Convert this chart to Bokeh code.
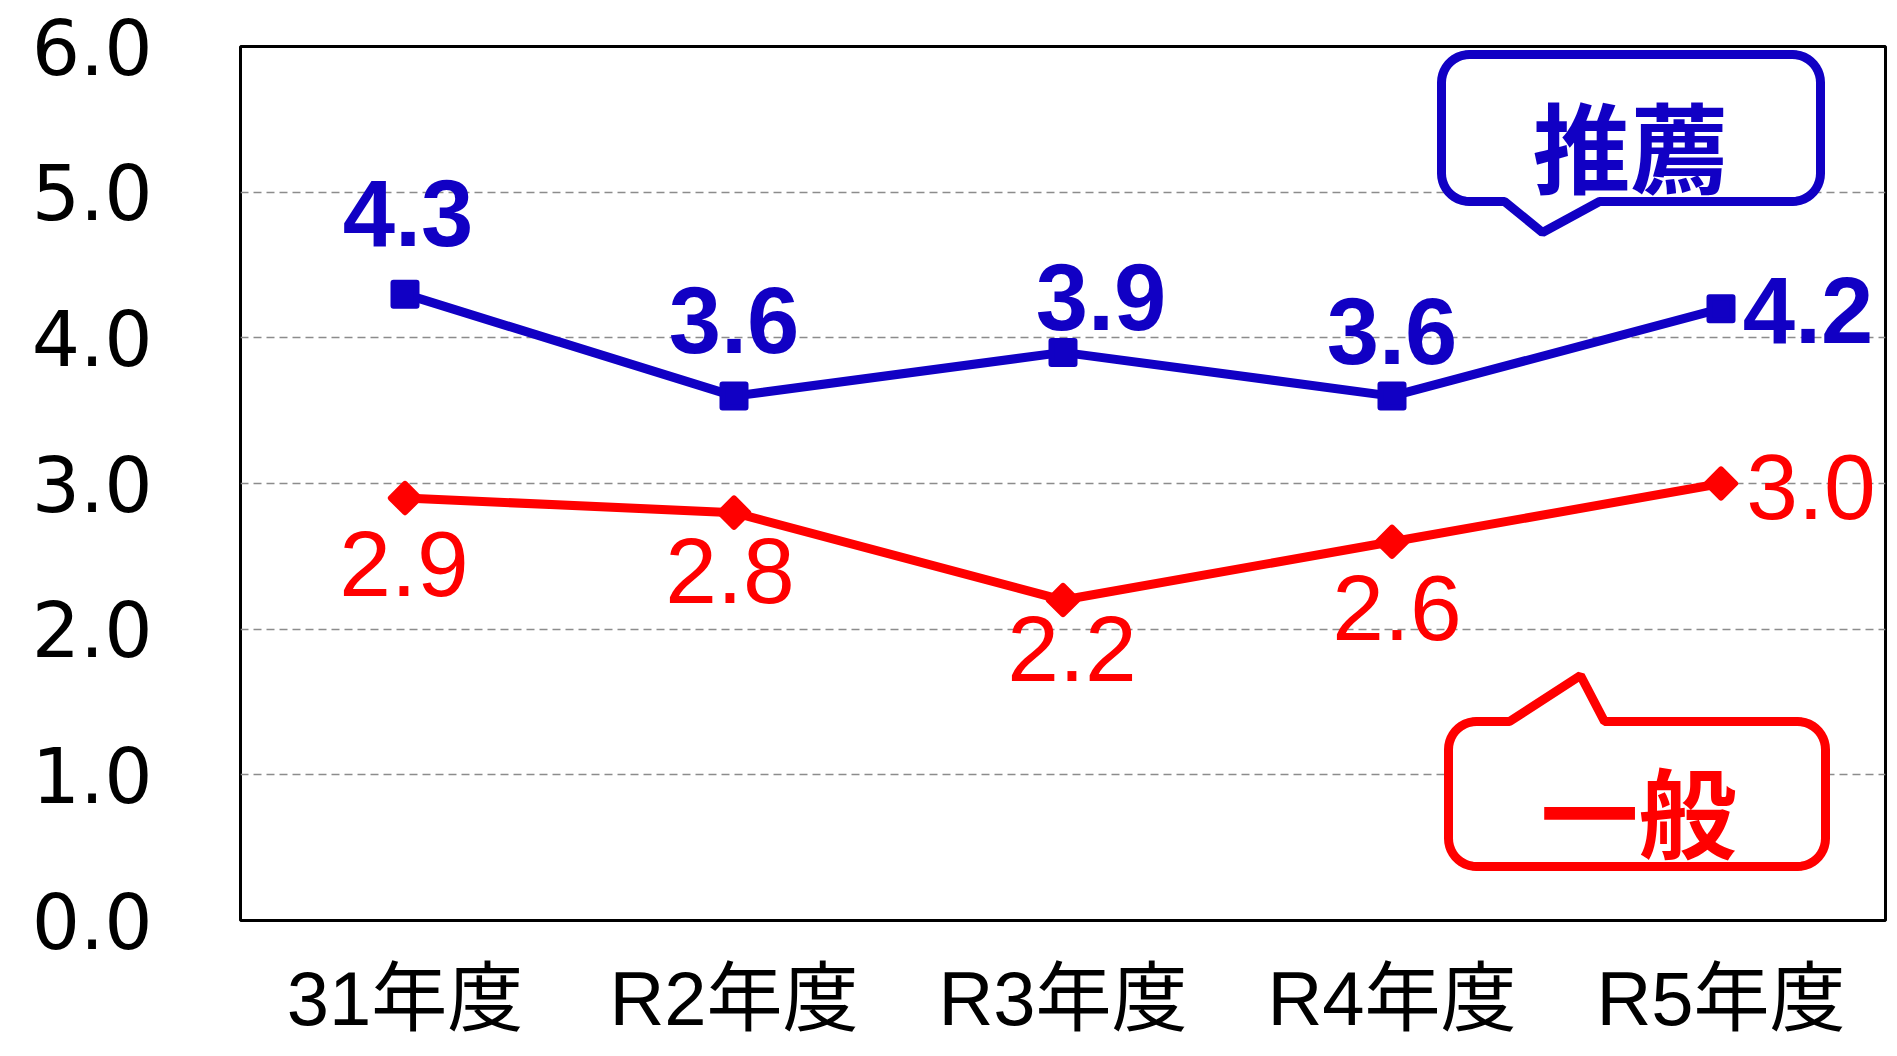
import numpy as np
from bokeh.plotting import figure
from bokeh.models import (FactorRange, Range1d, FixedTicker, PrintfTickFormatter,
                          ColumnDataSource, LabelSet)
from bokeh.core.properties import value
from bokeh.embed import file_html
from bokeh.resources import INLINE

# ---------------- data ----------------
categories = ["31年度", "R2年度", "R3年度", "R4年度", "R5年度"]
suisen = [4.3, 3.6, 3.9, 3.6, 4.2]      # 推薦
ippan = [2.9, 2.8, 2.2, 2.6, 3.0]       # 一般
y_ticks = [0, 1, 2, 3, 4, 5, 6]
series_names = ["推薦", "一般"]

# ---------------- styles ----------------
BLUE = "#1100C4"
RED = "#FF0000"
LEFT, TOP = 240, 46
FW, FH = 1645, 874

p = figure(
    x_range=FactorRange(*categories, range_padding=0),
    y_range=Range1d(0, 6),
    frame_width=FW, frame_height=FH,
    min_border_left=LEFT, min_border_top=TOP, min_border_right=2, min_border_bottom=120,
    output_backend="svg", toolbar_location=None,
)
p.background_fill_color = "white"
p.border_fill_color = "white"
p.outline_line_color = "black"
p.outline_line_width = 3

# axes
p.yaxis.ticker = FixedTicker(ticks=y_ticks)
p.yaxis.formatter = PrintfTickFormatter(format="%.1f")
p.yaxis.axis_line_color = None
p.yaxis.major_tick_line_color = None
p.yaxis.minor_tick_line_color = None
p.yaxis.major_tick_out = 0
p.yaxis.major_tick_in = 0
p.yaxis.major_label_standoff = 88
p.yaxis.major_label_text_font = "DejaVu Sans, sans-serif"
p.yaxis.major_label_text_font_size = "76px"
p.yaxis.major_label_text_color = "black"

p.xaxis.axis_line_color = None
p.xaxis.major_tick_line_color = None
p.xaxis.minor_tick_line_color = None
p.xaxis.major_tick_out = 0
p.xaxis.major_tick_in = 0
p.xaxis.major_label_standoff = 35
p.xaxis.major_label_text_font = "Liberation Sans, Noto Sans CJK JP"
p.xaxis.major_label_text_font_size = "76px"
p.xaxis.major_label_text_color = "black"

p.xgrid.visible = False
p.ygrid.grid_line_color = "#8c8c8c"
p.ygrid.grid_line_width = 1.5
p.ygrid.grid_line_dash = "8 5"

# ---------------- callouts ----------------
# shapes are given in page pixels and mapped into the frame:
# y via an extra numeric pixel range (top = 0), x via synthetic categorical coords
p.extra_y_ranges = {"py": Range1d(FH, 0)}
NCAT = len(categories)


def fx(page_x):
    return float(page_x - 8 - LEFT)


def fy(page_y):
    return float(page_y - 8 - TOP)


def callout(x0, y0, x1, y1, r, tail, side):
    xs, ys = [], []

    def arc(cx, cy, t0, t1):
        t = np.linspace(t0, t1, 12)
        xs.extend(cx + r * np.cos(t))
        ys.extend(cy + r * np.sin(t))

    xs.append(x0 + r); ys.append(y0)
    if side == "top":
        for tx, ty in tail:
            xs.append(tx); ys.append(ty)
    arc(x1 - r, y0 + r, -np.pi / 2, 0)
    arc(x1 - r, y1 - r, 0, np.pi / 2)
    if side == "bottom":
        for tx, ty in tail:
            xs.append(tx); ys.append(ty)
    arc(x0 + r, y1 - r, np.pi / 2, np.pi)
    arc(x0 + r, y0 + r, np.pi, 1.5 * np.pi)
    return [fx(v) * NCAT / FW for v in xs], [fy(v) for v in ys]


bx, by = callout(1449, 62, 1828, 209, 28,
                 [(1607, 209), (1550, 240), (1512, 209)], "bottom")
p.patch(bx, by, y_range_name="py",
        fill_color="white", line_color=BLUE, line_width=9)
rx, ry = callout(1456, 729, 1833, 874, 28,
                 [(1517, 729), (1588, 683), (1612, 729)], "top")
p.patch(rx, ry, y_range_name="py",
        fill_color="white", line_color=RED, line_width=9)

# ---------------- series ----------------
p.line(categories, suisen, line_width=9, line_color=BLUE)
p.line(categories, ippan, line_width=9, line_color=RED)

p.scatter(categories, suisen, marker="square", size=23, line_width=6, line_join="round",
          fill_color=BLUE, line_color=BLUE)
p.scatter(categories, ippan, marker="square", angle=np.pi / 4, size=20, line_width=6,
          line_join="round", fill_color=RED, line_color=RED)

# data labels (pixel offsets relative to the point; +y = up)
red_off = [(-1, -66), (-4, -58), (9, -49), (5, -66), (90, -3)]
blue_off = [(3, 81), (0, 76), (38, 55), (0, 65), (87, -1)]

rsrc = ColumnDataSource(dict(x=categories, y=ippan, t=["%.1f" % v for v in ippan],
                             dx=[o[0] for o in red_off], dy=[o[1] for o in red_off]))
bsrc = ColumnDataSource(dict(x=categories, y=suisen, t=["%.1f" % v for v in suisen],
                             dx=[o[0] for o in blue_off], dy=[o[1] for o in blue_off]))
p.add_layout(LabelSet(x="x", y="y", text="t", x_offset="dx", y_offset="dy", source=rsrc,
                      text_align="center", text_baseline="middle",
                      text_font=value("Liberation Sans"),
                      text_font_size="93px", text_color=RED))
p.add_layout(LabelSet(x="x", y="y", text="t", x_offset="dx", y_offset="dy", source=bsrc,
                      text_align="center", text_baseline="middle",
                      text_font=value("Liberation Sans"),
                      text_font_style="bold", text_font_size="94px", text_color=BLUE))

# callout texts: anchored at the last category, shifted in pixels
anchor_px = (NCAT - 0.5) * FW / NCAT
callout_pos = [(1638, 150), (1646, 815)]   # page pixels of the two texts
for name, (cx, cy), col in zip(series_names, callout_pos, [BLUE, RED]):
    src = ColumnDataSource(dict(x=[categories[-1]], y=[6 * (1 - fy(cy) / FH)],
                                t=[name], dx=[fx(cx) - anchor_px], dy=[0]))
    p.add_layout(LabelSet(x="x", y="y", text="t", x_offset="dx", y_offset="dy", source=src,
                          text_align="center", text_baseline="middle",
                          text_font=value("Noto Sans CJK JP"),
                          text_font_style="bold", text_font_size="98px", text_color=col))

open("out.html", "w").write(file_html(p, INLINE))
